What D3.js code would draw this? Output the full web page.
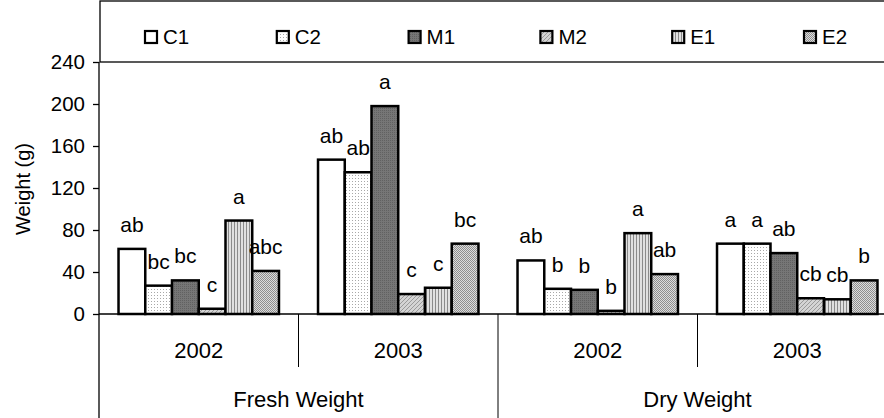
<!DOCTYPE html>
<html><head><meta charset="utf-8">
<script src="https://cdn.jsdelivr.net/npm/d3@7"></script>
<style>body{margin:0;background:#fff}svg{display:block;font-family:"Liberation Sans",Arial,sans-serif}</style>
</head><body><svg id="c" width="884" height="418"></svg>
<script>
const groups = ["2002","2003","2002","2003"];
const outerCats = ["Fresh Weight","Dry Weight"];
const series = ["C1","C2","M1","M2","E1","E2"];
const C1 = [62, 147, 51, 67];
const C2 = [27, 135, 24, 67];
const M1 = [32, 198, 23, 58];
const M2 = [5, 19, 3, 15];
const E1 = [89, 25, 77, 14];
const E2 = [41, 67, 38, 32];
const L_C1 = ["ab","ab","ab","a"];
const L_C2 = ["bc","ab","b","a"];
const L_M1 = ["bc","a","b","ab"];
const L_M2 = ["c","c","b","cb"];
const L_E1 = ["a","c","a","cb"];
const L_E2 = ["abc","bc","ab","b"];
const yTicks = [0,40,80,120,160,200,240];

const values = {C1, C2, M1, M2, E1, E2};
const labels = {C1:L_C1, C2:L_C2, M1:L_M1, M2:L_M2, E1:L_E1, E2:L_E2};

const svg = d3.select("#c");
const defs = svg.append("defs");
function pat(id, w, h, bg, draw){
  const p = defs.append("pattern").attr("id", id).attr("patternUnits","userSpaceOnUse").attr("width", w).attr("height", h);
  p.append("rect").attr("width", w).attr("height", h).attr("fill", bg);
  draw(p);
}
pat("pC2", 3, 3, "#ffffff", p => p.append("rect").attr("x",1).attr("y",1).attr("width",1).attr("height",1).attr("fill","#a8a8a8"));
pat("pM1", 2, 2, "#767676", p => p.append("rect").attr("width",1).attr("height",1).attr("fill","#616161"));
pat("pM2", 4, 4, "#d4d4d4", p => {
  p.append("rect").attr("x",0).attr("y",3).attr("width",1).attr("height",1).attr("fill","#9a9a9a");
  p.append("rect").attr("x",1).attr("y",2).attr("width",1).attr("height",1).attr("fill","#9a9a9a");
  p.append("rect").attr("x",2).attr("y",1).attr("width",1).attr("height",1).attr("fill","#9a9a9a");
  p.append("rect").attr("x",3).attr("y",0).attr("width",1).attr("height",1).attr("fill","#9a9a9a");
});
pat("pE1", 3, 3, "#e0e0e0", p => p.append("rect").attr("width",1).attr("height",3).attr("fill","#8a8a8a"));
pat("pE2", 2, 2, "#dcdcdc", p => {
  p.append("rect").attr("width",1).attr("height",1).attr("fill","#8e8e8e");
  p.append("rect").attr("x",1).attr("y",1).attr("width",1).attr("height",1).attr("fill","#8e8e8e");
});
const fills = {C1:"#ffffff", C2:"url(#pC2)", M1:"url(#pM1)", M2:"url(#pM2)", E1:"url(#pE1)", E2:"url(#pE2)"};

const x0 = d3.scaleBand().domain(d3.range(groups.length)).range([99, 897]).padding(0);
const x1 = d3.scaleBand().domain(series).range([0, x0.bandwidth()]).paddingInner(0).paddingOuter(0.73);
const y = d3.scaleLinear().domain([0,240]).range([314, 62]);

// legend box
svg.append("rect").attr("x",100).attr("y",1).attr("width",800).attr("height",61)
  .attr("fill","none").attr("stroke","#000").attr("stroke-width",1.3);
const lg = svg.append("g");
series.forEach((s,i)=>{
  const lx = 144 + i*131.8;
  lg.append("rect").attr("x",lx+1).attr("y",31).attr("width",12).attr("height",12)
    .attr("fill", fills[s]).attr("stroke","#000").attr("stroke-width",2.2);
  lg.append("text").attr("x",lx+19).attr("y",43.5).attr("font-size",20.5).text(s);
});

// bars
const gBars = svg.append("g");
series.forEach(s=>{
  values[s].forEach((v,gi)=>{
    const bx = x0(gi) + x1(s);
    gBars.append("rect").attr("x",bx).attr("y",y(v)).attr("width",x1.bandwidth()).attr("height",y(0)-y(v))
      .attr("fill",fills[s]).attr("stroke","#000").attr("stroke-width",2.5);
  });
});
// value labels
series.forEach(s=>{
  values[s].forEach((v,gi)=>{
    const bx = x0(gi) + x1(s) + x1.bandwidth()/2;
    svg.append("text").attr("x",bx).attr("y",y(v)-17).attr("text-anchor","middle")
      .attr("font-size",21).text(labels[s][gi]);
  });
});

// y axis
const yAxis = d3.axisLeft(y).tickValues(yTicks).tickSize(6).tickPadding(8);
const ga = svg.append("g").attr("transform","translate(99,0)").call(yAxis);
ga.select(".domain").remove();
ga.selectAll(".tick line").attr("stroke","#000").attr("stroke-width",1.3);
ga.selectAll(".tick text").attr("font-size",20.5).attr("fill","#000").attr("font-family","Liberation Sans, Arial, sans-serif");
svg.append("line").attr("x1",99).attr("x2",99).attr("y1",62).attr("y2",418).attr("stroke","#000").attr("stroke-width",1.3);
// baseline
svg.append("line").attr("x1",99).attr("x2",897).attr("y1",y(0)).attr("y2",y(0)).attr("stroke","#000").attr("stroke-width",1.5);

// category axis dividers
groups.forEach((g,gi)=>{
  if(gi===0) return;
  const xx = x0(gi);
  const outer = gi % 2 === 0;
  svg.append("line").attr("x1",xx).attr("x2",xx).attr("y1",y(0)).attr("y2", outer ? 418 : 367)
    .attr("stroke","#000").attr("stroke-width",1);
});
groups.forEach((g,gi)=>{
  svg.append("text").attr("x", x0(gi)+x0.bandwidth()/2).attr("y",358).attr("text-anchor","middle")
    .attr("font-size",22).text(g);
});
outerCats.forEach((c,ci)=>{
  const cx = (x0(ci*2) + x0(ci*2+1) + x0.bandwidth())/2;
  svg.append("text").attr("x",cx).attr("y",407).attr("text-anchor","middle").attr("font-size",22).text(c);
});

// y title
svg.append("text").attr("transform","translate(30,189) rotate(-90)").attr("text-anchor","middle")
  .attr("font-size",20).text("Weight (g)");
</script></body></html>
